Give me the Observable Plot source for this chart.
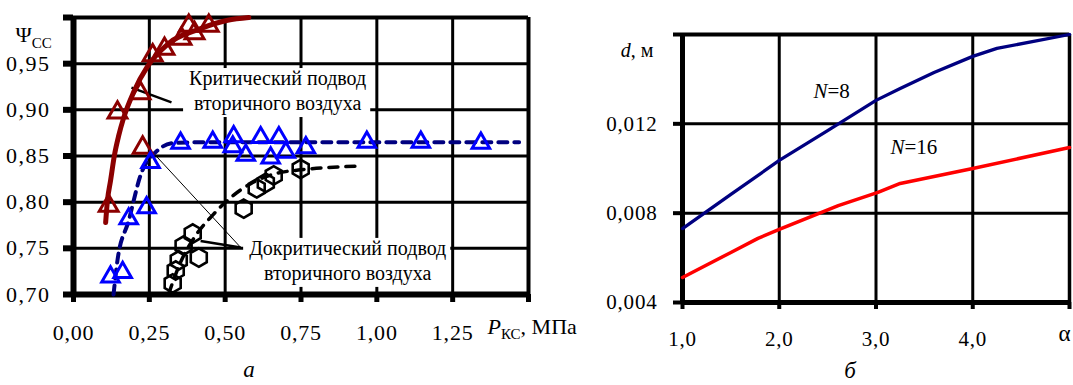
<!DOCTYPE html>
<html><head><meta charset="utf-8">
<script src="https://cdn.jsdelivr.net/npm/d3@7"></script>
<script src="https://cdn.jsdelivr.net/npm/@observablehq/plot@0.6"></script>
<style>
body{margin:0;background:#fff;}
#wrap{display:flex;width:1073px;height:385px;overflow:hidden;}
svg{display:block}
svg text{font-family:"Liberation Serif","Times New Roman",serif !important;font-variant-numeric:normal !important;}
</style></head><body><div id="wrap"></div>
<script>
// ---------- Left chart (а): Ψсс vs P_КС ----------
const pDomain = [0, 1.5];
const psiDomain = [0.70, 1.00];
const pTicks = [0, 0.25, 0.5, 0.75, 1.0, 1.25, 1.5];
const pTickLabels = ["0,00", "0,25", "0,50", "0,75", "1,00", "1,25", ""];
const psiTicks = [0.70, 0.75, 0.80, 0.85, 0.90, 0.95, 1.00];
const psiTickLabels = ["0,70", "0,75", "0,80", "0,85", "0,90", "0,95", ""];

// critical secondary-air supply (dark red triangles + solid curve)
const critP   = [0.116, 0.145, 0.221, 0.228, 0.261, 0.300, 0.356, 0.399, 0.380, 0.446];
const critPsi = [0.796, 0.897, 0.918, 0.859, 0.959, 0.966, 0.977, 0.983, 0.991, 0.991];
const critCurveP   = [0.106, 0.112, 0.122, 0.135, 0.149, 0.165, 0.198, 0.244, 0.310, 0.419, 0.508, 0.578];
const critCurvePsi = [0.778, 0.802, 0.823, 0.851, 0.872, 0.891, 0.919, 0.947, 0.971, 0.988, 0.997, 1.000];

// subcritical, blue triangles + navy dashed curve
const subP   = [0.122, 0.162, 0.182, 0.241, 0.254, 0.353, 0.459, 0.528, 0.525, 0.568, 0.617, 0.650, 0.677, 0.700, 0.766, 0.967, 1.145, 1.343];
const subPsi = [0.719, 0.724, 0.782, 0.794, 0.843, 0.864, 0.865, 0.871, 0.860, 0.851, 0.870, 0.848, 0.870, 0.854, 0.859, 0.865, 0.865, 0.864];
const subCurveP   = [0.132, 0.145, 0.182, 0.221, 0.277, 0.330, 0.442, 1.469];
const subCurvePsi = [0.700, 0.737, 0.780, 0.829, 0.856, 0.864, 0.865, 0.865];

// second subcritical series, black hexagons + black dashed curve
const hexP   = [0.327, 0.337, 0.347, 0.363, 0.393, 0.413, 0.561, 0.604, 0.634, 0.660, 0.749];
const hexPsi = [0.712, 0.726, 0.737, 0.753, 0.766, 0.740, 0.793, 0.815, 0.821, 0.829, 0.836];
const hexCurveP   = [0.314, 0.353, 0.403, 0.459, 0.518, 0.584, 0.667, 0.749, 0.937];
const hexCurvePsi = [0.701, 0.735, 0.764, 0.786, 0.805, 0.820, 0.831, 0.835, 0.839];

const leftCallouts = [
  {p: 0.673, psi: 0.922, text: "Критический подвод\nвторичного воздуха"},
  {p: 0.904, psi: 0.738, text: "Докритический подвод\nвторичного воздуха"}
];
const leftLeaders = [
  {p1: 0.191, psi1: 0.924, p2: 0.323, psi2: 0.908, w: 2.5},
  {p1: 0.271, psi1: 0.8505, p2: 0.551, psi2: 0.751, w: 1},
  {p1: 0.419, psi1: 0.758, p2: 0.551, psi2: 0.751, w: 2.5}
];

// ---------- Right chart (б): d vs α ----------
const alphaDomain = [1, 5];
const dDomain = [0.004, 0.016];
const alphaTicks = [1, 2, 3, 4, 5];
const alphaTickLabels = ["1,0", "2,0", "3,0", "4,0", ""];
const dTicks = [0.004, 0.008, 0.012, 0.016];
const dTickLabels = ["0,004", "0,008", "0,012", ""];

const alphaN8 = [1.0, 1.5, 2.0, 2.5, 3.0, 3.25, 3.6, 4.0, 4.25, 5.0];
const dN8     = [0.00731, 0.00884, 0.01036, 0.01170, 0.01305, 0.01358, 0.01430, 0.01502, 0.01538, 0.0160];
const alphaN16 = [1.0, 1.5, 1.78, 2.0, 2.61, 3.02, 3.25, 4.0, 5.0];
const dN16     = [0.00512, 0.00624, 0.00687, 0.00727, 0.00834, 0.00893, 0.00933, 0.01000, 0.01094];
const seriesLabels = [
  {alpha: 2.354, d: 0.01347, text: "N=8"},
  {alpha: 3.15, d: 0.01096, text: "N=16"}
];

// ---------- helpers ----------
const FONT = "Liberation Serif";
const zipXY = (xs, ys) => xs.map((x, i) => ({x, y: ys[i]}));
const labeler = (ticks, labels) => { const m = new Map(ticks.map((t, i) => [t, labels[i]])); return d => m.get(d); };
const DARKRED = "#8b0000", BLUE = "#0000ff", NAVY = "#000080";

const left = Plot.plot({
  width: 590, height: 385,
  marginLeft: 73, marginRight: 62, marginTop: 17, marginBottom: 91,
  x: {domain: pDomain, axis: null},
  y: {domain: psiDomain, axis: null},
  style: {fontFamily: FONT, fontSize: "21px", color: "black", background: "white", overflow: "visible"},
  marks: [
    Plot.ruleX(pTicks.slice(1, -1), {stroke: "black", strokeWidth: 3}),
    Plot.ruleY(psiTicks.slice(1, -1), {stroke: "black", strokeWidth: 3}),
    Plot.text(leftCallouts, {x: "p", y: "psi", text: "text", fontFamily: FONT, fontSize: 20, lineHeight: 1.25, textAnchor: "middle", fill: "black"}),
    Plot.link(leftLeaders, {x1: "p1", y1: "psi1", x2: "p2", y2: "psi2", strokeWidth: "w", stroke: "black"}),
    Plot.ruleY([psiDomain[1]], {stroke: "black", strokeWidth: 4}),
    Plot.ruleX([pDomain[1]], {stroke: "black", strokeWidth: 4}),
    Plot.ruleX([pDomain[0]], {stroke: "black", strokeWidth: 6}),
    Plot.ruleY([psiDomain[0]], {stroke: "black", strokeWidth: 6}),
    Plot.axisX(pTicks, {tickSize: 8, tickPadding: 22, strokeWidth: 5, tickFormat: labeler(pTicks, pTickLabels), label: null, fontFamily: FONT, fontSize: 22, ariaDescription: "ticklabels"}),
    Plot.axisY(psiTicks, {tickSize: 10, tickPadding: 13, strokeWidth: 6, tickFormat: labeler(psiTicks, psiTickLabels), label: null, fontFamily: FONT, fontSize: 22, ariaDescription: "ticklabels-wide"}),
    Plot.line(zipXY(critCurveP, critCurvePsi), {x: "x", y: "y", stroke: DARKRED, strokeWidth: 5, curve: "monotone-x"}),
    Plot.line(zipXY(subCurveP, subCurvePsi), {x: "x", y: "y", stroke: NAVY, strokeWidth: 4, strokeDasharray: "9,7", strokeLinecap: "round", curve: "monotone-x"}),
    Plot.line(zipXY(hexCurveP, hexCurvePsi), {x: "x", y: "y", stroke: "black", strokeWidth: 3.5, strokeDasharray: "9,8", strokeLinecap: "round", curve: "monotone-x"}),
    Plot.dot(zipXY(critP, critPsi), {x: "x", y: "y", symbol: "triangle", r: 7, stroke: DARKRED, strokeWidth: 3, fill: "none"}),
    Plot.dot(zipXY(subP, subPsi), {x: "x", y: "y", symbol: "triangle", r: 6.5, stroke: BLUE, strokeWidth: 3, fill: "none"}),
    Plot.dot(zipXY(hexP, hexPsi), {x: "x", y: "y", symbol: "hexagon", r: 8, stroke: "black", strokeWidth: 2.6, fill: "none"}),
    Plot.text(["ΨСС"], {frameAnchor: "top-left", text: d => d, textAnchor: "start", dx: -58, dy: 9, fontFamily: FONT, fontSize: 22}),
    Plot.text(["PКС, МПа"], {frameAnchor: "bottom-right", text: d => d, textAnchor: "start", dx: -41, dy: 39, fontFamily: FONT, fontSize: 22}),
    Plot.text(["а"], {frameAnchor: "bottom", text: d => d, textAnchor: "middle", dx: -52, dy: 82, fontFamily: FONT, fontSize: 23, fontStyle: "italic"})
  ]
});

const right = Plot.plot({
  width: 483, height: 385,
  marginLeft: 92, marginRight: 4, marginTop: 34, marginBottom: 83,
  x: {domain: alphaDomain, axis: null},
  y: {domain: dDomain, axis: null},
  style: {fontFamily: FONT, fontSize: "20px", color: "black", background: "white", overflow: "visible"},
  marks: [
    Plot.ruleX(alphaTicks.slice(1, -1), {stroke: "black", strokeWidth: 3}),
    Plot.ruleY(dTicks.slice(1, -1), {stroke: "black", strokeWidth: 3}),
    Plot.ruleY([dDomain[1]], {stroke: "black", strokeWidth: 4}),
    Plot.ruleX([alphaDomain[1]], {stroke: "black", strokeWidth: 3.5}),
    Plot.ruleX([alphaDomain[0]], {stroke: "black", strokeWidth: 5}),
    Plot.ruleY([dDomain[0]], {stroke: "black", strokeWidth: 5}),
    Plot.axisX(alphaTicks, {tickSize: 7, tickPadding: 22, strokeWidth: 4, tickFormat: labeler(alphaTicks, alphaTickLabels), label: null, fontFamily: FONT, fontSize: 21, ariaDescription: "ticklabels"}),
    Plot.axisY(dTicks, {tickSize: 9, tickPadding: 16, strokeWidth: 4, tickFormat: labeler(dTicks, dTickLabels), label: null, fontFamily: FONT, fontSize: 21, ariaDescription: "ticklabels"}),
    Plot.line(zipXY(alphaN8, dN8), {x: "x", y: "y", stroke: NAVY, strokeWidth: 3.3}),
    Plot.line(zipXY(alphaN16, dN16), {x: "x", y: "y", stroke: "#ff0000", strokeWidth: 3.5}),
    Plot.text(seriesLabels, {x: "alpha", y: "d", text: "text", textAnchor: "start", fontFamily: FONT, fontSize: 21}),
    Plot.text(["d, м"], {frameAnchor: "top-left", text: d => d, textAnchor: "end", dx: -29, dy: 8, fontFamily: FONT, fontSize: 20}),
    Plot.text(["α"], {frameAnchor: "bottom-right", text: d => d, textAnchor: "middle", dx: -5, dy: 38, fontFamily: FONT, fontSize: 23}),
    Plot.text(["б"], {frameAnchor: "bottom", text: d => d, textAnchor: "middle", dx: -26, dy: 75, fontFamily: FONT, fontSize: 23, fontStyle: "italic"})
  ]
});

const wrap = document.getElementById("wrap");
wrap.append(left, right);

// slightly wider tick-label spacing, as in the original typesetting
for (const svg of [left, right]) {
  svg.querySelectorAll('g[aria-description^="ticklabels"] text').forEach(t => {
    t.style.letterSpacing = t.closest("g").getAttribute("aria-description") === "ticklabels-wide" ? "1.5px" : "0.8px";
  });
}

// rich text (italics, subscripts)
const NS = "http://www.w3.org/2000/svg";
const rich = {
  "ΨСС": [["Ψ", {}], ["СС", {"font-size": "15px", dy: "6"}]],
  "PКС, МПа": [["P", {"font-style": "italic"}], ["КС", {"font-size": "15px", dy: "5"}], [", МПа", {dy: "-5"}]],
  "d, м": [["d", {"font-style": "italic"}], [", м", {}]],
  "N=8": [["N", {"font-style": "italic"}], ["=8", {}]],
  "N=16": [["N", {"font-style": "italic"}], ["=16", {}]]
};
for (const svg of [left, right]) {
  svg.querySelectorAll("text").forEach(t => {
    const parts = rich[t.textContent];
    if (!parts) return;
    t.textContent = "";
    for (const [s, attrs] of parts) {
      const ts = document.createElementNS(NS, "tspan");
      for (const k in attrs) ts.setAttribute(k, attrs[k]);
      ts.textContent = s;
      t.appendChild(ts);
    }
  });
}

// white boxes behind callout labels (they hide the grid, as in the original)
{
  const sr = left.getBoundingClientRect();
  left.querySelectorAll("text").forEach(t => {
    if (!t.textContent.includes("воздуха")) return;
    const r = t.getBoundingClientRect();
    let g = t;
    while (g.parentNode !== left) g = g.parentNode;
    const rect = document.createElementNS(NS, "rect");
    rect.setAttribute("x", r.left - sr.left - 6);
    rect.setAttribute("y", r.top - sr.top + 1);
    rect.setAttribute("width", r.width + 10);
    rect.setAttribute("height", r.height + 1);
    rect.setAttribute("fill", "white");
    left.insertBefore(rect, g);
  });
}
</script></body></html>
